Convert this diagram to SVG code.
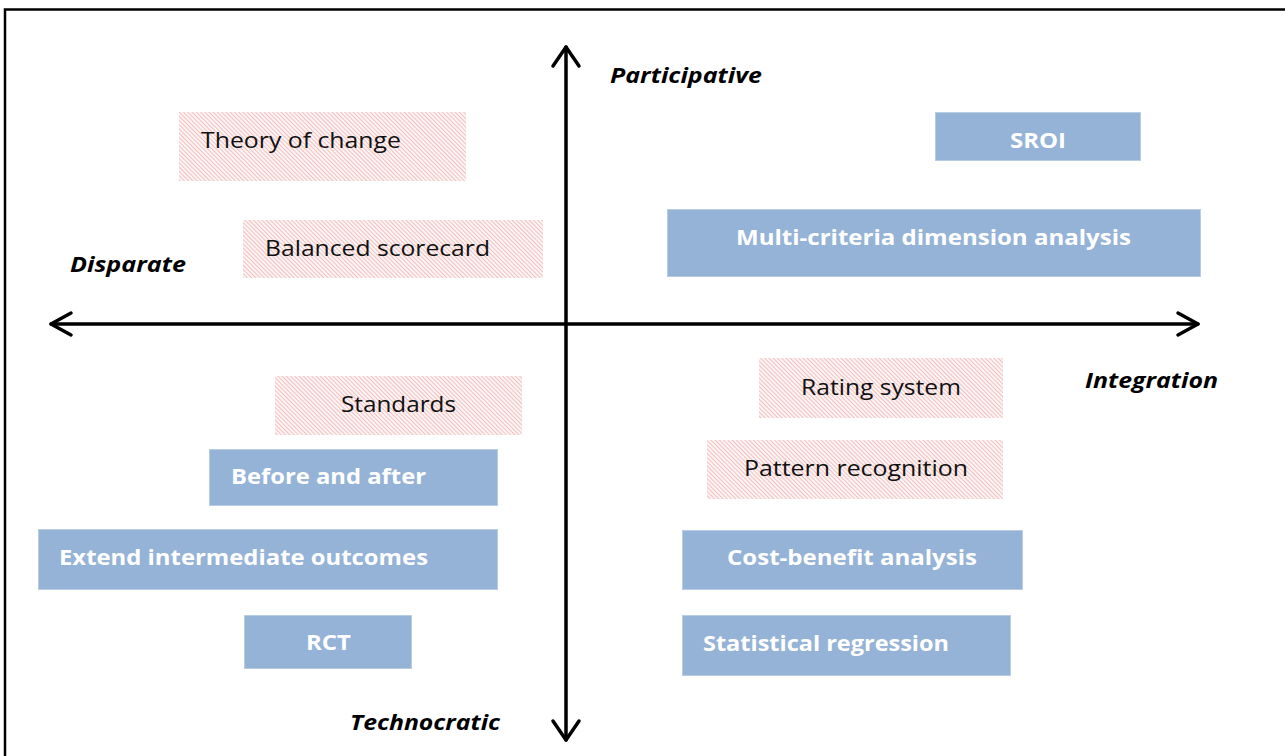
<svg xmlns="http://www.w3.org/2000/svg" width="1285" height="756" viewBox="0 0 1285 756">
<style>
.hatch{fill:url(#hatch)}
.blue{fill:#95b3d7;stroke:#b8cce4;stroke-width:1}
.t{font-family:"Open Sans","Noto Sans","Liberation Sans",sans-serif;font-size:22px;fill:#111}
.w{font-family:"Open Sans","Noto Sans","Liberation Sans",sans-serif;font-size:22px;font-weight:bold;fill:#fff}
.ax{font-family:"Open Sans","Noto Sans","Liberation Sans",sans-serif;font-size:21px;font-weight:bold;font-style:italic;fill:#000}
.axis{stroke:#000;stroke-width:3.5;fill:none;stroke-linecap:round;stroke-linejoin:round}
</style>
<defs>
<pattern id="hatch" patternUnits="userSpaceOnUse" width="3" height="3" patternTransform="rotate(45)">
<rect width="3" height="3" fill="#fcf3f3"/>
<line x1="0" y1="0.5" x2="3" y2="0.5" stroke="#eebcbc" stroke-width="0.9"/>
</pattern>
</defs>
<rect x="0" y="0" width="1285" height="756" fill="#fff"/>
<rect x="5" y="9.5" width="1300" height="760" fill="none" stroke="#000" stroke-width="2.5"/>

<g id="connectors">
<path class="axis" d="M566 47 V740"/>
<path class="axis" d="M553 66 L566 47 L579 66"/>
<path class="axis" d="M553 721 L566 740 L579 721"/>
<path class="axis" d="M51 324 H1198"/>
<path class="axis" d="M71 313 L51 324 L71 335"/>
<path class="axis" d="M1178 313 L1198 324 L1178 335"/>
</g>

<g id="axis-labels">
<text class="ax" x="610" y="83" textLength="152" lengthAdjust="spacingAndGlyphs">Participative</text>
<text class="ax" x="70" y="272" textLength="116" lengthAdjust="spacingAndGlyphs">Disparate</text>
<text class="ax" x="1085" y="388" textLength="133" lengthAdjust="spacingAndGlyphs">Integration</text>
<text class="ax" x="350" y="730" textLength="150" lengthAdjust="spacingAndGlyphs">Technocratic</text>
</g>

<g id="theory-of-change">
<rect class="hatch" x="179" y="112" width="287" height="69"/>
<text class="t" x="201" y="148" textLength="200" lengthAdjust="spacingAndGlyphs">Theory of change</text>
</g>
<g id="balanced-scorecard">
<rect class="hatch" x="243" y="220" width="300" height="58"/>
<text class="t" x="265" y="256" textLength="225" lengthAdjust="spacingAndGlyphs">Balanced scorecard</text>
</g>
<g id="standards">
<rect class="hatch" x="275" y="376" width="247" height="59"/>
<text class="t" x="341" y="412" textLength="115" lengthAdjust="spacingAndGlyphs">Standards</text>
</g>
<g id="before-and-after">
<rect class="blue" x="209.5" y="449.5" width="288" height="56"/>
<text class="w" x="231" y="484" textLength="195" lengthAdjust="spacingAndGlyphs">Before and after</text>
</g>
<g id="extend-intermediate-outcomes">
<rect class="blue" x="38.5" y="529.5" width="459" height="60"/>
<text class="w" x="59" y="565" textLength="369" lengthAdjust="spacingAndGlyphs">Extend intermediate outcomes</text>
</g>
<g id="rct">
<rect class="blue" x="244.5" y="615.5" width="167" height="53"/>
<text class="w" x="306" y="650" textLength="45" lengthAdjust="spacingAndGlyphs">RCT</text>
</g>
<g id="sroi">
<rect class="blue" x="935.5" y="112.5" width="205" height="48"/>
<text class="w" x="1010" y="148" textLength="56" lengthAdjust="spacingAndGlyphs">SROI</text>
</g>
<g id="multi-criteria">
<rect class="blue" x="667.5" y="209.5" width="533" height="67"/>
<text class="w" x="736" y="245" textLength="395" lengthAdjust="spacingAndGlyphs">Multi-criteria dimension analysis</text>
</g>
<g id="rating-system">
<rect class="hatch" x="759" y="358" width="244" height="60"/>
<text class="t" x="801" y="395" textLength="160" lengthAdjust="spacingAndGlyphs">Rating system</text>
</g>
<g id="pattern-recognition">
<rect class="hatch" x="707" y="440" width="296" height="59"/>
<text class="t" x="744" y="476" textLength="224" lengthAdjust="spacingAndGlyphs">Pattern recognition</text>
</g>
<g id="cost-benefit">
<rect class="blue" x="682.5" y="530.5" width="340" height="59"/>
<text class="w" x="727" y="565" textLength="250" lengthAdjust="spacingAndGlyphs">Cost-benefit analysis</text>
</g>
<g id="statistical-regression">
<rect class="blue" x="682.5" y="615.5" width="328" height="60"/>
<text class="w" x="703" y="651" textLength="246" lengthAdjust="spacingAndGlyphs">Statistical regression</text>
</g>
</svg>
